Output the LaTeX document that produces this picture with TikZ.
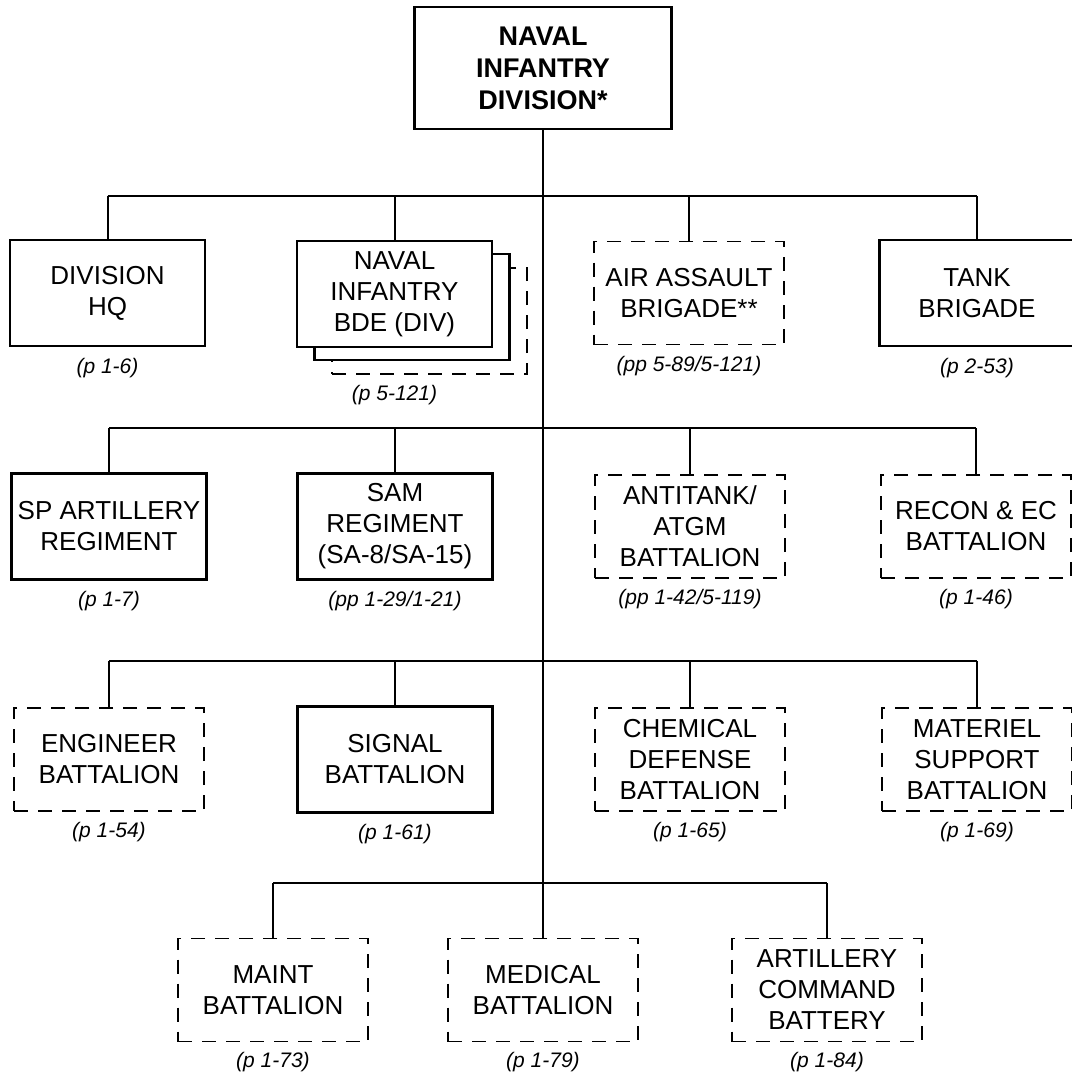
\documentclass[tikz,border=0pt]{standalone}
\usepackage{fontspec}
\setmainfont{Liberation Sans}
\usepackage{tikz}
\usetikzlibrary{positioning}

\begin{document}
\begin{tikzpicture}[x=1pt, y=-1pt, font=\fontsize{26}{31}\selectfont,
    unitbox/.style={rectangle, draw, line width=2.5pt, fill=white,
      minimum width=195pt, minimum height=106pt, inner sep=0pt, align=center},
    cadrebox/.style={rectangle, draw, line width=1.2pt, dash pattern=on 14pt off 10pt,
      fill=white, minimum width=190pt, minimum height=103pt, inner sep=0pt, align=center},
    pageref/.style={font=\fontsize{21}{25}\selectfont\itshape, inner sep=0pt},
    link/.style={line width=2pt},
    busline/.style={line width=2.8pt}]
  \useasboundingbox (0,0) rectangle (1071,1076);
  \coordinate (bus1) at (543,196);
  \coordinate (bus2) at (543,428);
  \coordinate (bus3) at (543,661);
  \coordinate (bus4) at (543,883);

  % division
  \node[unitbox, minimum width=257pt, minimum height=122pt,
        font=\fontsize{27}{32}\selectfont\bfseries] (top) at (543,68) {NAVAL\\INFANTRY\\DIVISION*};

  % first row, brigades
  \node[cadrebox, minimum width=195pt, minimum height=106pt] (nibc) at (429.5,321) {};
  \node[unitbox] (nibb) at (412,307) {};
  \node[unitbox] (nib) at (394.5,294) {NAVAL\\INFANTRY\\BDE (DIV)};
  \coordinate (nibfoot) at (nib.south |- nibc.south);
  \node[pageref, below=10pt of nibfoot] (nib-p) {(p 5-121)};
  \draw[link] (nib.north) -- (nib.north |- bus1);
  \foreach \n/\x/\s/\t/\p in {
    hq/107.5/unitbox/{DIVISION\\HQ}/{(p 1-6)},
    aab/689/cadrebox/{AIR ASSAULT\\BRIGADE**}/{(pp 5-89/5-121)},
    tank/977/unitbox/{TANK\\BRIGADE}/{(p 2-53)}%
  }{
    \node[\s] (\n) at (\x,293) {\t};
    \node[pageref, below=11pt of \n] (\n-p) {\p};
    \draw[link] (\n.north) -- (\n.north |- bus1);
  }
  \draw[busline] (hq.north |- bus1) -- (tank.north |- bus1);

  % second row
  \foreach \n/\x/\s/\t/\p in {
    spa/109/unitbox/{SP ARTILLERY\\REGIMENT}/{(p 1-7)},
    sam/395/unitbox/{SAM\\REGIMENT\\(SA-8/SA-15)}/{(pp 1-29/1-21)},
    atk/690/cadrebox/{ANTITANK/\\ATGM\\BATTALION}/{(pp 1-42/5-119)},
    rec/976/cadrebox/{RECON \& EC\\BATTALION}/{(p 1-46)}%
  }{
    \node[\s] (\n) at (\x,526.5) {\t};
    \node[pageref, below=10pt of \n] (\n-p) {\p};
    \draw[link] (\n.north) -- (\n.north |- bus2);
  }
  \draw[busline] (spa.north |- bus2) -- (rec.north |- bus2);

  % third row
  \foreach \n/\x/\s/\t/\p in {
    eng/109/cadrebox/{ENGINEER\\BATTALION}/{(p 1-54)},
    sig/395/unitbox/{SIGNAL\\BATTALION}/{(p 1-61)},
    chem/690/cadrebox/{CHEMICAL\\DEFENSE\\BATTALION}/{(p 1-65)},
    mat/977/cadrebox/{MATERIEL\\SUPPORT\\BATTALION}/{(p 1-69)}%
  }{
    \node[\s] (\n) at (\x,759.5) {\t};
    \node[pageref, below=10pt of \n] (\n-p) {\p};
    \draw[link] (\n.north) -- (\n.north |- bus3);
  }
  \draw[busline] (eng.north |- bus3) -- (mat.north |- bus3);

  % fourth row
  \foreach \n/\x/\t/\p in {
    mnt/273/{MAINT\\BATTALION}/{(p 1-73)},
    med/543/{MEDICAL\\BATTALION}/{(p 1-79)},
    acb/827/{ARTILLERY\\COMMAND\\BATTERY}/{(p 1-84)}%
  }{
    \node[cadrebox] (\n) at (\x,990) {\t};
    \node[pageref, below=10pt of \n] (\n-p) {\p};
    \draw[link] (\n.north) -- (\n.north |- bus4);
  }
  \draw[busline] (mnt.north |- bus4) -- (acb.north |- bus4);

  % trunk
  \draw[link] (top.south) -- (med.north);
\end{tikzpicture}
\end{document}
